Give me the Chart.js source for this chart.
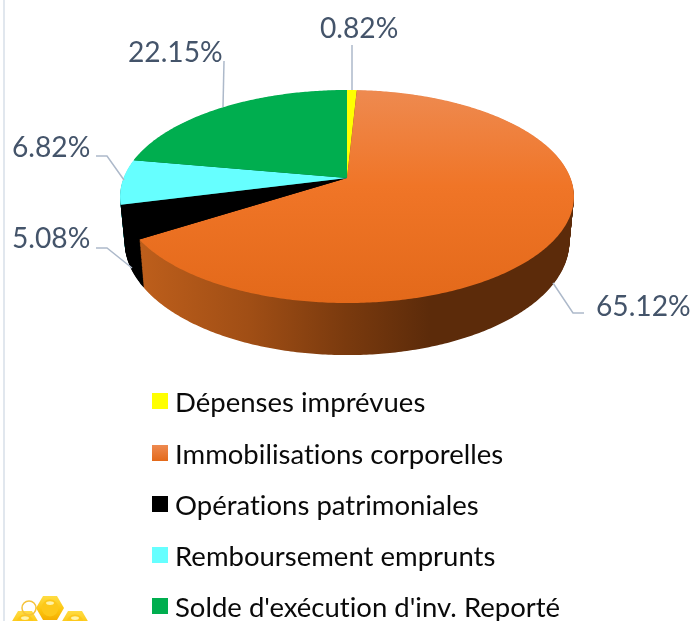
<!DOCTYPE html>
<html lang="fr">
<head>
    <meta charset="UTF-8">
    <title>Répartition des dépenses</title>
    <script src="https://cdn.jsdelivr.net/npm/chart.js"></script>
    <style>
        html, body { margin: 0; padding: 0; background: #fff; }
        .chart-container { width: 693px; height: 621px; position: relative; }
    </style>
</head>
<body>
    <div class="chart-container">
        <canvas id="pieChart"></canvas>
    </div>

    <script>
const categories = ["Dépenses imprévues", "Immobilisations corporelles", "Opérations patrimoniales", "Remboursement emprunts", "Solde d'exécution d'inv. Reporté"];
const shares = [0.82, 65.12, 5.08, 6.82, 22.15];
const sliceColors = ["#FFFF00", "#F07527", "#000000", "#66FFFF", "#00AE4F"];
const sideColors = ["#7f7f00", "#5c2b0a", "#000000", "#338080", "#00572a"];

// where the percentages go: text start, baseline, then the leader line
const labelX = [320, 596, 12, 12, 128];
const labelY = [38, 316, 248, 157, 62];
const leaders = [
    [[352, 45], [352, 90]],
    [[584, 313], [573, 313], [553, 283]],
    [[96, 248], [107, 248], [132, 268]],
    [[96, 156], [107, 156], [124, 180]],
    [[224, 61], [223, 107]]
];
const legendBaseline = [412, 464, 515, 566, 617];

// perspective of the pie: top face and bottom face of the disc
const topFace = { cx: 347, cy: 178, a: 223.5, b: 103.3, k: 0.1737 };
const bottomFace = { cx: 347, cy: 222, a: 219, b: 110, k: 0.1737 };

function project(face, angle) {
    const w = 1 - face.k * Math.sin(angle);
    return [face.cx + face.a * Math.cos(angle) / w, face.cy + face.b * Math.sin(angle) / w];
}

function slicePath(ctx, face, arc) {
    ctx.beginPath();
    ctx.moveTo(face.cx, face.cy);
    const steps = Math.max(2, Math.ceil((arc.endAngle - arc.startAngle) * 90));
    for (let i = 0; i <= steps; i++) {
        const p = project(face, arc.startAngle + (arc.endAngle - arc.startAngle) * i / steps);
        ctx.lineTo(p[0], p[1]);
    }
    ctx.closePath();
}

// little honeycomb watermark, bottom left
function drawHex(ctx, x, y, r) {
    const g = ctx.createLinearGradient(0, y - r, 0, y + r);
    g.addColorStop(0, '#ffe04a');
    g.addColorStop(0.6, '#fcc30c');
    g.addColorStop(1, '#f2a900');
    ctx.beginPath();
    for (let i = 0; i < 6; i++) {
        const a = Math.PI / 3 * i;
        const px = x + r * Math.cos(a), py = y + r * Math.sin(a);
        i ? ctx.lineTo(px, py) : ctx.moveTo(px, py);
    }
    ctx.closePath();
    ctx.fillStyle = g;
    ctx.fill();
    ctx.beginPath();
    ctx.arc(x, y, r * 0.6, 0, Math.PI * 2);
    ctx.fillStyle = '#fdc81a';
    ctx.fill();
    ctx.beginPath();
    ctx.ellipse(x, y - r * 0.35, r * 0.28, r * 0.14, 0, 0, Math.PI * 2);
    ctx.fillStyle = '#fff3a8';
    ctx.fill();
}

const pie3d = {
    id: 'pie3d',
    beforeDatasetDraw(chart, args) {
        const ctx = chart.ctx;
        const arcs = chart.getDatasetMeta(args.index).data;

        const sideGrad = ctx.createLinearGradient(130, 0, 430, 0);
        sideGrad.addColorStop(0, '#c0601c');
        sideGrad.addColorStop(0.4, '#a04e15');
        sideGrad.addColorStop(0.72, '#7a3a0e');
        sideGrad.addColorStop(1, '#5c2b0a');

        const topGrad = ctx.createLinearGradient(0, 90, 0, 303);
        topGrad.addColorStop(0, '#ee8a50');
        topGrad.addColorStop(0.45, '#f07527');
        topGrad.addColorStop(1, '#e3691a');

        ctx.save();
        // side wall: stack of faces from bottom to top
        const layers = 60;
        for (let l = 0; l < layers; l++) {
            const t = l / layers;
            const face = {
                cx: topFace.cx,
                cy: bottomFace.cy + (topFace.cy - bottomFace.cy) * t,
                a: bottomFace.a + (topFace.a - bottomFace.a) * t,
                b: bottomFace.b + (topFace.b - bottomFace.b) * t,
                k: topFace.k
            };
            arcs.forEach((arc, i) => {
                slicePath(ctx, face, arc);
                ctx.fillStyle = i === 1 ? sideGrad : sideColors[i];
                ctx.fill();
            });
        }
        // top face
        arcs.forEach((arc, i) => {
            slicePath(ctx, topFace, arc);
            ctx.fillStyle = i === 1 ? topGrad : sliceColors[i];
            ctx.fill();
        });
        ctx.restore();
        return false;
    },
    afterDraw(chart) {
        const ctx = chart.ctx;
        ctx.save();

        // faint frame line on the left
        ctx.fillStyle = '#e1e7ee';
        ctx.fillRect(3, 0, 2, 621);

        // leader lines
        ctx.strokeStyle = '#ADB9CA';
        ctx.lineWidth = 1.5;
        leaders.forEach(line => {
            ctx.beginPath();
            line.forEach((p, i) => i ? ctx.lineTo(p[0], p[1]) : ctx.moveTo(p[0], p[1]));
            ctx.stroke();
        });

        // percentages
        ctx.fillStyle = '#44546A';
        ctx.font = '28.2px Lato';
        ctx.textBaseline = 'alphabetic';
        shares.forEach((v, i) => ctx.fillText(v.toFixed(2) + '%', labelX[i], labelY[i]));

        // legend
        ctx.font = '27.5px Lato';
        ctx.letterSpacing = '0.01px'; // keeps the "ti" from turning into a ligature
        categories.forEach((name, i) => {
            const top = legendBaseline[i] - 19;
            if (i === 1) {
                const g = ctx.createLinearGradient(0, top, 0, top + 16);
                g.addColorStop(0, '#ee8a50');
                g.addColorStop(1, '#e3691a');
                ctx.fillStyle = g;
            } else {
                ctx.fillStyle = sliceColors[i];
            }
            ctx.fillRect(152, top, 16, 16);
            ctx.fillStyle = '#0a0a0a';
            ctx.fillText(name, 175, legendBaseline[i]);
        });

        // honeycomb
        drawHex(ctx, 25, 623, 14);
        drawHex(ctx, 75, 623, 14);
        drawHex(ctx, 50, 608, 14);
        ctx.strokeStyle = '#f5c33b';
        ctx.lineWidth = 1.5;
        ctx.beginPath();
        ctx.arc(29, 608, 7, 0, Math.PI * 2);
        ctx.stroke();
        ctx.restore();
    }
};

new Chart(document.getElementById('pieChart').getContext('2d'), {
    type: 'pie',
    data: {
        labels: categories,
        datasets: [{ data: shares, backgroundColor: sliceColors, borderWidth: 0 }]
    },
    options: {
        responsive: true,
        maintainAspectRatio: false,
        animation: false,
        plugins: { legend: { display: false }, tooltip: { enabled: false } }
    },
    plugins: [pie3d]
});
    </script>
</body>
</html>
